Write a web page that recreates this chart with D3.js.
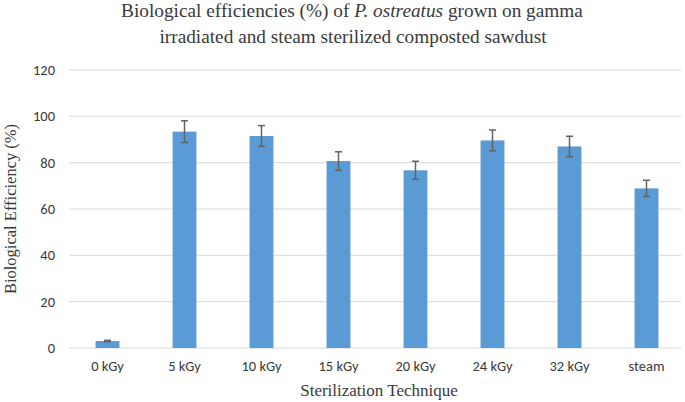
<!DOCTYPE html>
<html><head><meta charset="utf-8">
<script src="https://cdn.jsdelivr.net/npm/d3@7"></script>
<style>body{margin:0;background:#fff;}svg{display:block;}
.serif{font-family:"Liberation Serif","DejaVu Serif",serif;}
.sans{font-family:Carlito,"Open Sans","Liberation Sans",sans-serif;}
</style>
</head><body>
<script>
const categories = ["0 kGy","5 kGy","10 kGy","15 kGy","20 kGy","24 kGy","32 kGy","steam"];
const values = [3.0, 93.4, 91.5, 80.7, 76.7, 89.6, 87.0, 68.9];
const errors = [0.3, 4.7, 4.5, 4.0, 3.9, 4.5, 4.4, 3.5];
const yTicks = [0, 20, 40, 60, 80, 100, 120];

const W = 685, H = 402;
const svg = d3.select("body").append("svg").attr("width", W).attr("height", H);
const x = d3.scaleBand().domain(categories).range([69, 685]).paddingInner(0.69).paddingOuter(0.345);
const y = d3.scaleLinear().domain([0, 120]).range([348, 70]);

svg.append("g").selectAll("line").data(yTicks).join("line")
  .attr("x1", 69).attr("x2", 681)
  .attr("y1", d => y(d)).attr("y2", d => y(d))
  .attr("stroke", "#d9d9d9").attr("stroke-width", 1);

const yAxis = d3.axisLeft(y).tickValues(yTicks).tickSize(0).tickPadding(0);
const gy = svg.append("g").attr("transform", "translate(55,0)").call(yAxis);
gy.attr("font-family", null).attr("font-size", null);
gy.select(".domain").remove();
gy.selectAll("text").attr("class", "sans").style("font-size", "14.5px").attr("fill", "#3a3a3a");

svg.append("g").selectAll("rect").data(values).join("rect")
  .attr("x", (d, i) => x(categories[i]))
  .attr("width", x.bandwidth())
  .attr("y", d => y(d))
  .attr("height", d => y(0) - y(d))
  .attr("fill", "#5b9bd5");

const eg = svg.append("g").attr("stroke", "#636363").attr("stroke-width", 1.5);
values.forEach((v, i) => {
  const cx = x(categories[i]) + x.bandwidth() / 2;
  const y1 = y(v + errors[i]), y2 = y(v - errors[i]);
  eg.append("line").attr("x1", cx).attr("x2", cx).attr("y1", y1).attr("y2", y2);
  eg.append("line").attr("x1", cx - 3.5).attr("x2", cx + 3.5).attr("y1", y1).attr("y2", y1);
  eg.append("line").attr("x1", cx - 3.5).attr("x2", cx + 3.5).attr("y1", y2).attr("y2", y2);
});

const xAxis = d3.axisBottom(x).tickSize(0).tickPadding(0);
const gx = svg.append("g").attr("transform", "translate(0,361)").call(xAxis);
gx.attr("font-family", null).attr("font-size", null);
gx.select(".domain").remove();
gx.selectAll("text").attr("class", "sans").style("font-size", "14.5px").attr("fill", "#3a3a3a");

const t = svg.append("text").attr("class", "serif").attr("x", 352).attr("y", 17).attr("text-anchor", "middle")
  .style("font-size", "19.3px").attr("fill", "#3a3a3a");
t.append("tspan").text("Biological efficiencies (%) of ");
t.append("tspan").attr("font-style", "italic").text("P. ostreatus");
t.append("tspan").text(" grown on gamma");
svg.append("text").attr("class", "serif").attr("x", 353).attr("y", 43).attr("text-anchor", "middle")
  .style("font-size", "19.3px").attr("fill", "#3a3a3a")
  .text("irradiated and steam sterilized composted sawdust");

svg.append("text").attr("class", "serif").attr("x", 379).attr("y", 396).attr("text-anchor", "middle")
  .style("font-size", "17px").attr("fill", "#3a3a3a")
  .text("Sterilization Technique");

svg.append("text").attr("class", "serif").attr("transform", "translate(16,209) rotate(-90)").attr("text-anchor", "middle")
  .style("font-size", "16.5px").attr("fill", "#3a3a3a")
  .text("Biological Efficiency (%)");
</script>
</body></html>
